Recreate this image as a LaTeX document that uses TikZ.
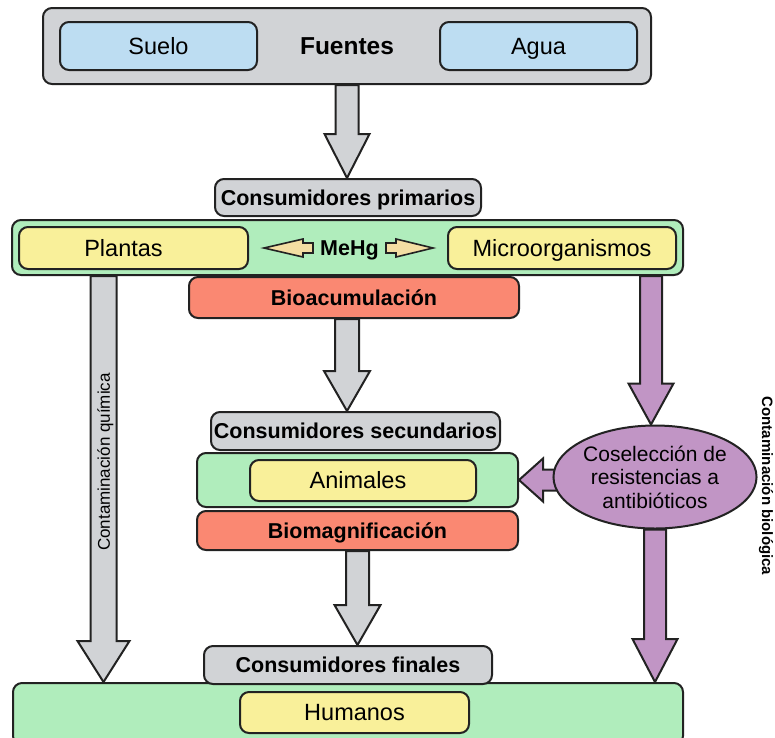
\documentclass[tikz,border=0pt]{standalone}
\usepackage{fontspec}
\setmainfont{Liberation Sans}
\usetikzlibrary{calc,shapes.geometric,backgrounds}
\definecolor{cgray}{RGB}{209,211,214}
\definecolor{cblue}{RGB}{189,221,242}
\definecolor{cgreen}{RGB}{176,237,188}
\definecolor{cyellow}{RGB}{249,240,154}
\definecolor{csalmon}{RGB}{250,136,114}
\definecolor{cpurple}{RGB}{193,149,197}
\definecolor{ctan}{RGB}{244,222,163}
\definecolor{cline}{RGB}{34,34,34}
% #1 style, #2 start, #3 tip, #4 shaft half width, #5 head half width, #6 head length
\newcommand{\vblk}[6]{\draw[#1] ($(#2)+(-#4,0)$) -- ($(#3)+(-#4,-#6)$) -- ($(#3)+(-#5,-#6)$) -- (#3) -- ($(#3)+(#5,-#6)$) -- ($(#3)+(#4,-#6)$) -- ($(#2)+(#4,0)$) -- cycle;}
% horizontal: #6 signed head length (positive = tip on the left)
\newcommand{\hblk}[6]{\draw[#1] ($(#2)+(0,-#4)$) -- ($(#3)+(#6,-#4)$) -- ($(#3)+(#6,-#5)$) -- (#3) -- ($(#3)+(#6,#5)$) -- ($(#3)+(#6,#4)$) -- ($(#2)+(0,#4)$) -- cycle;}
\begin{document}
\begin{tikzpicture}[x=1pt,y=-1pt,
  box/.style={draw=cline,line width=2pt,rounded corners=9pt,inner sep=0pt,text=black},
  rg/.style={font=\fontsize{23.5}{27}\selectfont,text height=16.8pt,text depth=0pt},
  bd/.style={font=\bfseries\fontsize{21.5}{25}\selectfont,text height=15.4pt,text depth=0pt},
  garrow/.style={draw=cline,line width=2pt,fill=cgray},
  parrow/.style={draw=cline,line width=2pt,fill=cpurple},
  tarrow/.style={draw=cline,line width=1.6pt,fill=ctan}]
\path[use as bounding box,clip] (0,0) rectangle (775,737);
% top
\node[box,fill=cgray,minimum width=608pt,minimum height=76pt,font=\bfseries\fontsize{24.5}{28}\selectfont,text height=17.5pt,text depth=0pt] (fuentes) at (347,46) {Fuentes};
\node[box,fill=cblue,minimum width=197pt,minimum height=48pt,rg] (suelo) at (158.5,46) {Suelo};
\node[box,fill=cblue,minimum width=197pt,minimum height=48pt,rg] (agua) at (538.5,46) {Agua};
% primary
\node[box,fill=cgray,minimum width=266pt,minimum height=37pt,bd] (cprim) at (348,197.5) {Consumidores primarios};
\node[box,fill=cgreen,minimum width=671pt,minimum height=55pt] (green1) at (347.5,247.5) {};
\node[box,fill=cyellow,minimum width=229pt,minimum height=42pt,label={[rg,xshift=-10pt]center:Plantas}] (plantas) at (133.5,248) {};
\node[box,fill=cyellow,minimum width=228pt,minimum height=42pt,rg] (micro) at (562,248) {Microorganismos};
\node[bd,inner sep=0pt] (mehg) at (349.5,248) {MeHg};
\node[box,fill=csalmon,minimum width=330pt,minimum height=41pt,bd] (bioacum) at (354,297.5) {Bioacumulación};
% secondary
\node[box,fill=cgray,minimum width=289pt,minimum height=38pt,bd] (csec) at (355.5,431) {Consumidores secundarios};
\node[box,fill=cgreen,minimum width=321pt,minimum height=54pt] (green2) at (357.5,480) {};
\node[box,fill=cyellow,minimum width=226pt,minimum height=41pt,label={[rg,xshift=-5pt]center:Animales}] (animales) at (363,480.5) {};
\node[box,fill=csalmon,minimum width=321pt,minimum height=39pt,bd] (biomag) at (357.5,530.5) {Biomagnificación};
% final
\node[box,fill=cgreen,minimum width=670pt,minimum height=62pt] (green3) at (348,714) {};
\node[box,fill=cgray,minimum width=288pt,minimum height=38pt,bd] (cfin) at (348,665) {Consumidores finales};
\node[box,fill=cyellow,minimum width=229pt,minimum height=41pt,rg] (humanos) at (354.5,712.5) {Humanos};
% ellipse
\node[draw=cline,line width=2pt,fill=cpurple,ellipse,minimum width=184pt,minimum height=103pt,inner sep=0pt,align=center,font=\fontsize{21}{23.5}\selectfont] (ell) at (655,477) {Coselección de\\resistencias a\\antibióticos};
% coordinates for arrows
\coordinate (a2s) at (bioacum.south -| fuentes.south);
\coordinate (a2t) at (a2s |- csec.north);
\coordinate (a1t) at (fuentes.south |- cprim.north);
\coordinate (a3t) at (biomag.south |- cfin.north);
\coordinate (qs) at ($(green1.south west)+(92.5,0)$);
\coordinate (qt) at (qs |- green3.north);
\coordinate (ps) at ($(green1.south west)+(640,0)$);
\coordinate (pt) at (ps |- ell.north);
\coordinate (pbt) at (ell.south |- green3.north);
\coordinate (phs) at ($(ell.west |- green2.east)+(10,0)$);
\coordinate (m1s) at ($(mehg.west)+(-7,0)$);
\coordinate (m1t) at ($(plantas.east)+(15,0)$);
\coordinate (m2s) at ($(mehg.east)+(7,0)$);
\coordinate (m2t) at ($(micro.west)+(-14,0)$);
\begin{pgfonlayer}{background}
\vblk{garrow}{fuentes.south}{a1t}{11.5}{22.5}{44}
\vblk{garrow}{a2s}{a2t}{12}{23}{40}
\vblk{garrow}{biomag.south}{a3t}{11.5}{23}{40}
\vblk{garrow}{qs}{qt}{13}{26}{41}
\vblk{parrow}{ps}{pt}{11}{22.5}{41}
\vblk{parrow}{ell.south}{pbt}{11}{22.5}{43}
\hblk{parrow}{phs}{green2.east}{10.5}{21.5}{24}
\end{pgfonlayer}
\hblk{tarrow}{m1s}{m1t}{5}{9}{39}
\hblk{tarrow}{m2s}{m2t}{5}{9}{-37}
% vertical labels
\node[rotate=90,font=\fontsize{17}{20}\selectfont,inner sep=0pt] (quim) at (105.5,462) {Contaminación química};
\node[rotate=-90,font=\bfseries\fontsize{15}{18}\selectfont,inner sep=0pt] (biol) at (766,486) {Contaminación biológica};
\end{tikzpicture}
\end{document}
